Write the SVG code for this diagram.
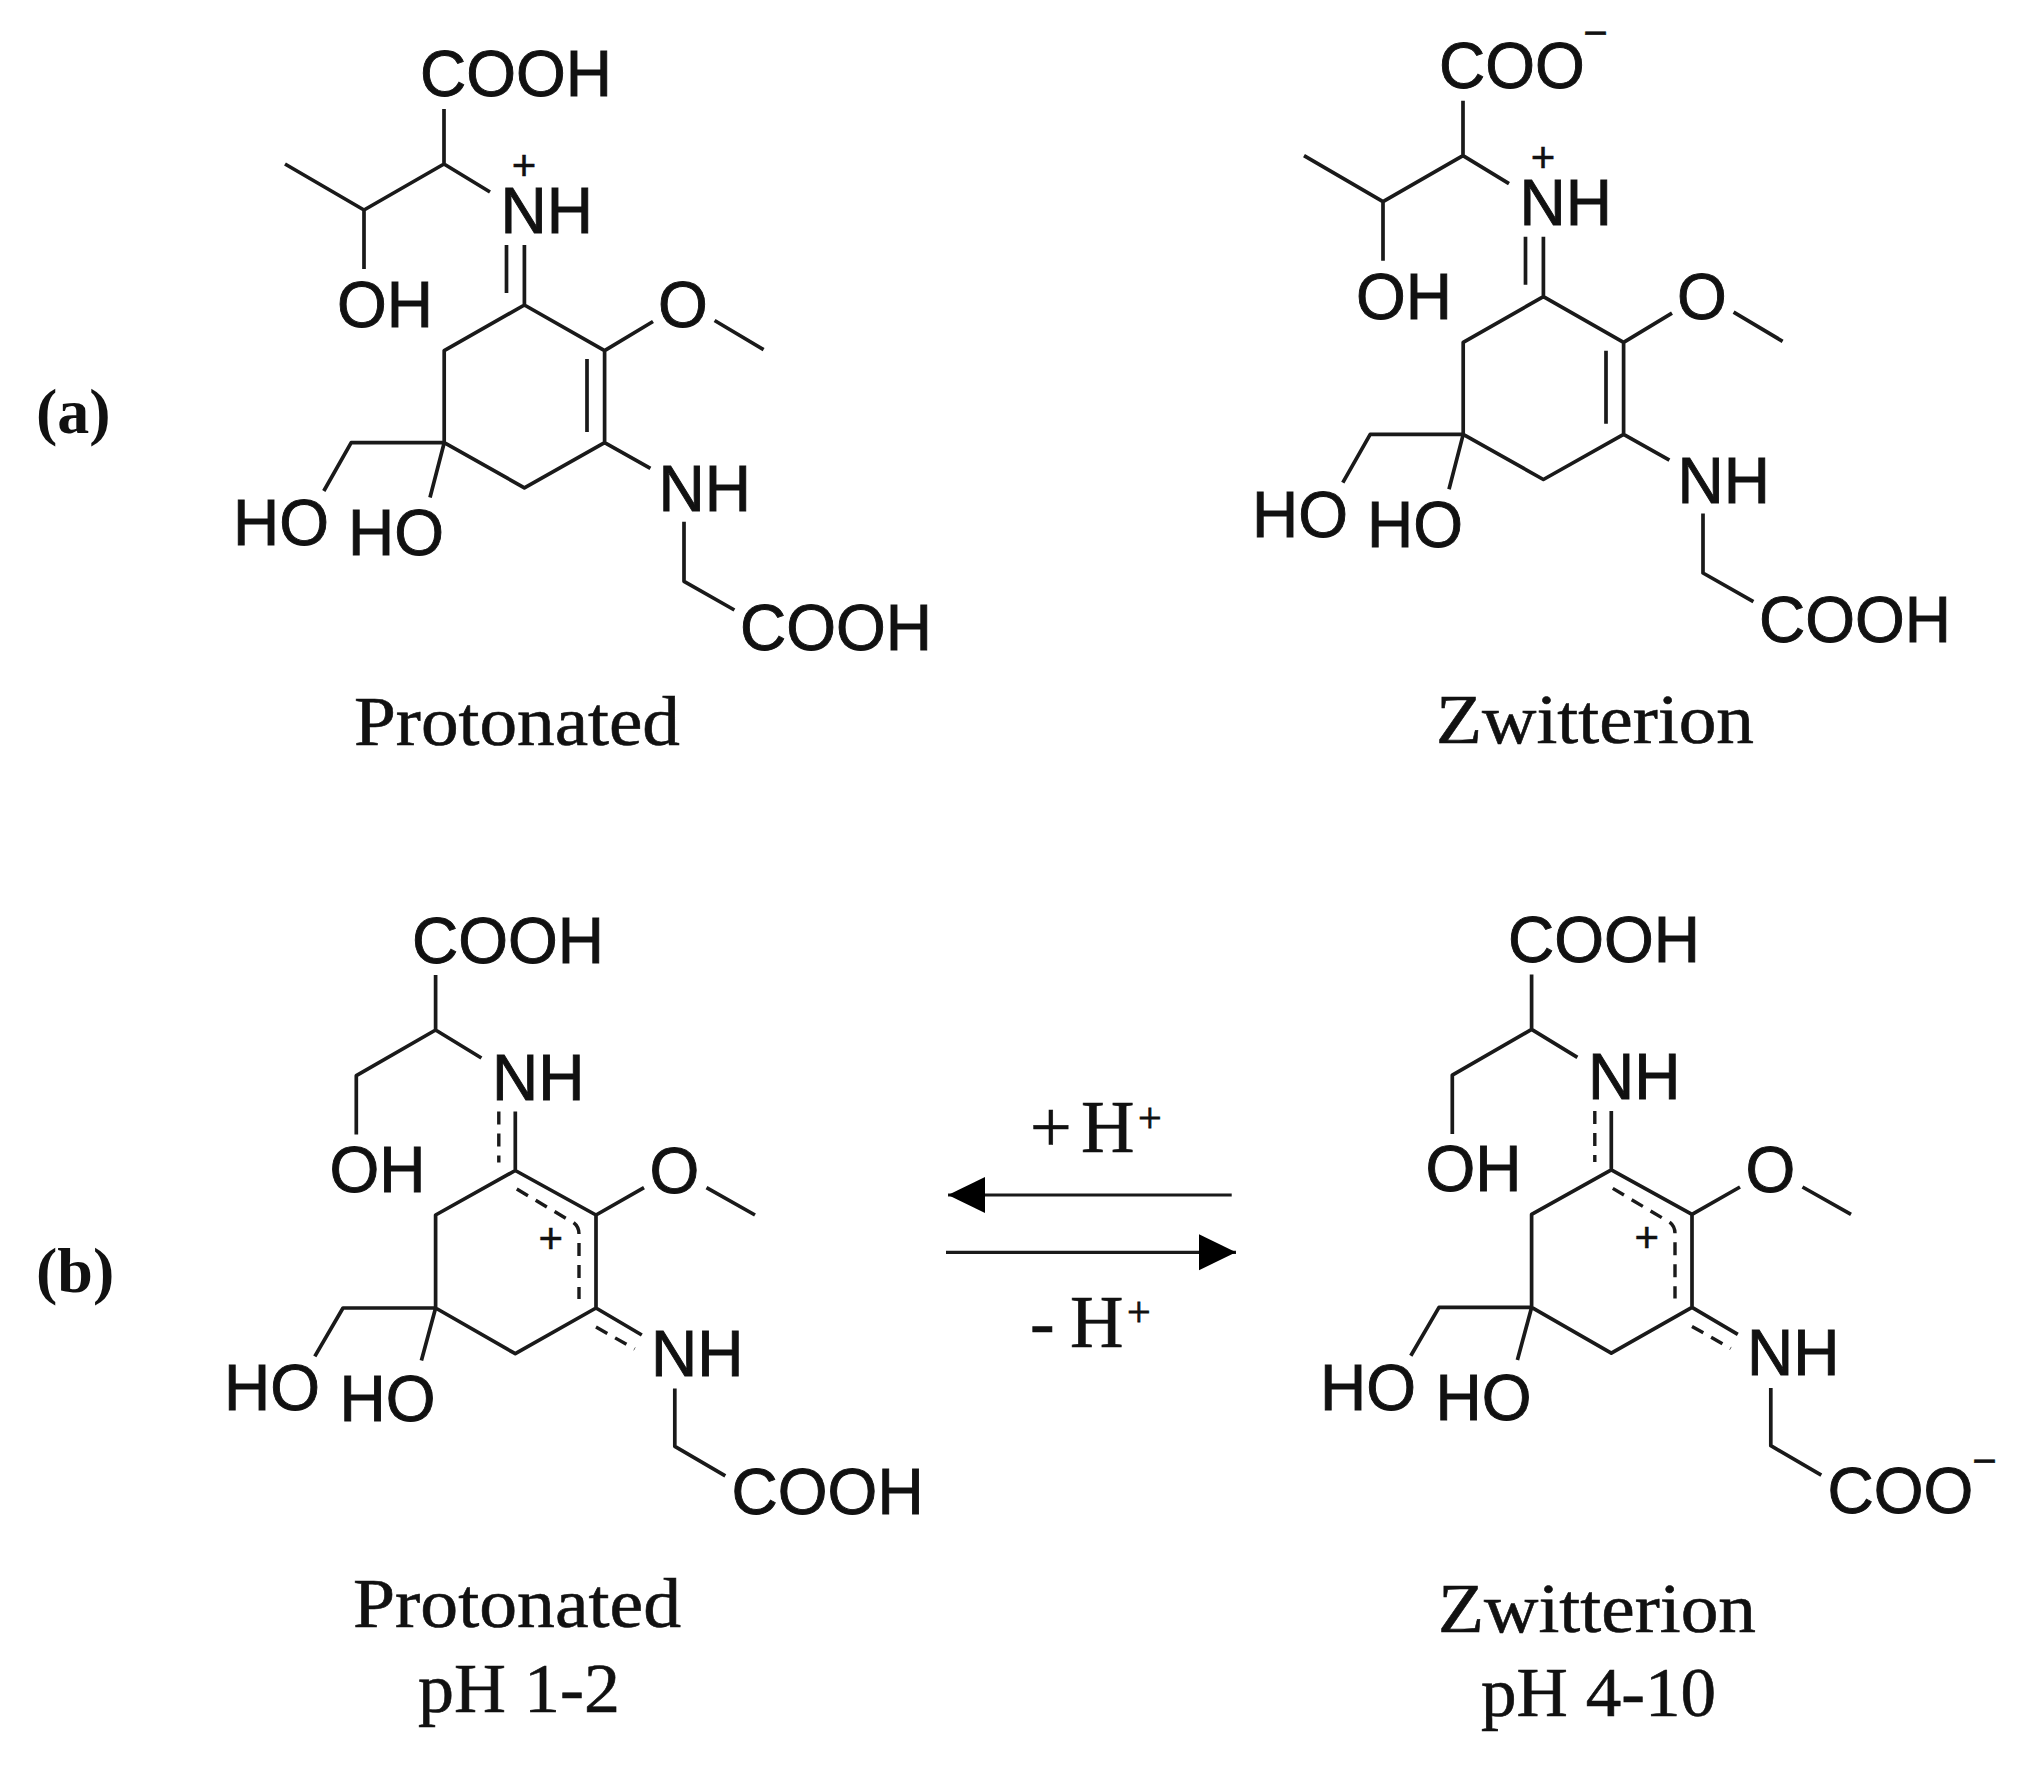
<svg xmlns="http://www.w3.org/2000/svg" width="2037" height="1779" viewBox="0 0 2037 1779">
<style>
text{fill:#111}
.a{font-family:"Liberation Sans",Arial,sans-serif;font-size:64px;stroke:#111;stroke-width:.9}
.c{font-family:"Liberation Sans",Arial,sans-serif;font-size:42px;text-anchor:middle;stroke:#111;stroke-width:.5}
.s{font-family:"Liberation Serif","Times New Roman",serif;font-size:70px;stroke:#111;stroke-width:.6}
.h{font-family:"Liberation Serif","Times New Roman",serif;font-size:74px;stroke:#111;stroke-width:.6}
.u{font-family:"Liberation Serif","Times New Roman",serif;font-size:42px;stroke:#111;stroke-width:.8}
.l{font-family:"Liberation Serif","Times New Roman",serif;font-size:64px;font-weight:bold}
.b{fill:none;stroke:#1a1a1a;stroke-width:3.7;stroke-linejoin:round;stroke-linecap:butt}
.d{fill:none;stroke:#1a1a1a;stroke-width:3.4;stroke-dasharray:13 9}
.ar{fill:none;stroke:#1a1a1a;stroke-width:3.2}
</style>
<defs>
<marker id="head" markerUnits="userSpaceOnUse" markerWidth="38" markerHeight="38" refX="37" refY="18" orient="auto"><path d="M0 0L37 18L0 36Z" fill="#000"/></marker>
</defs>
<rect width="2037" height="1779" fill="#fff"/>
<g id="label-a"><text class="l" x="36" y="433">(a)</text></g>
<g id="label-b"><text class="l" x="36" y="1292">(b)</text></g>
<g id="mol-a-protonated">
<path class="b" d="M444 109V164M285 164L364 210L444 164L490 192M364 210V269M524.4 245V305M506.5 245V293M524.4 305L604.6 350.6V442.7L524.4 487.8L444.2 442.7V350.6ZM587 359V432M604.6 350.6L653 321.5M714.6 320.5L763.6 349.6M604.6 442.7L650.4 468.4M684 521.7V581.3L734.4 610M444.2 442.7H351.2L323.8 491M444.2 442.7L430 497.5"/>
<text class="a" x="420" y="96">COOH</text>
<text class="c" x="524" y="180">+</text>
<text class="a" x="500.500" y="233">NH</text>
<text class="a" x="337" y="327">OH</text>
<text class="a" x="658" y="327">O</text>
<text class="a" x="658.500" y="511">NH</text>
<text class="a" x="233" y="545">HO</text>
<text class="a" x="348" y="555">HO</text>
<text class="a" x="740" y="650">COOH</text>
<text class="s" x="354" y="745" textLength="326" lengthAdjust="spacingAndGlyphs">Protonated</text>
</g>
<g id="mol-a-zwitterion" transform="translate(1019 -8.3)">
<path class="b" d="M444 109V164M285 164L364 210L444 164L490 192M364 210V269M524.4 245V305M506.5 245V293M524.4 305L604.6 350.6V442.7L524.4 487.8L444.2 442.7V350.6ZM587 359V432M604.6 350.6L653 321.5M714.6 320.5L763.6 349.6M604.6 442.7L650.4 468.4M684 521.7V581.3L734.4 610M444.2 442.7H351.2L323.8 491M444.2 442.7L430 497.5"/>
<text class="a" x="420" y="96">COO</text>
<text class="c" x="576.500" y="55.800">−</text>
<text class="c" x="524" y="180">+</text>
<text class="a" x="500.500" y="233">NH</text>
<text class="a" x="337" y="327">OH</text>
<text class="a" x="658" y="327">O</text>
<text class="a" x="658.500" y="511">NH</text>
<text class="a" x="233" y="545">HO</text>
<text class="a" x="348" y="555">HO</text>
<text class="a" x="740" y="650">COOH</text>
<text class="s" x="417" y="751" textLength="318" lengthAdjust="spacingAndGlyphs">Zwitterion</text>
</g>
<g id="mol-b-protonated">
<path class="b" d="M435.600 975V1030L356.300 1075.700V1134.600M435.600 1030L481.400 1058M515.300 1111.600V1170.500M515.300 1170.500L596 1215V1308L515.300 1353.700L435.600 1308V1215ZM596 1215L644 1187.600M706.500 1187.600L755 1215M596 1308L641.800 1335M674.800 1388.500V1446.300L725.300 1475.800M435.600 1308H343L314.800 1356.400M435.600 1308L421.400 1360.600"/>
<path class="d" d="M498.800 1111.600V1162.500M596 1327L634.700 1349M516.800 1189L568.700 1220Q579 1224 579 1234V1299"/>
<text class="a" x="412" y="962.700">COOH</text>
<text class="a" x="492" y="1099.800">NH</text>
<text class="a" x="329.500" y="1192">OH</text>
<text class="a" x="649.500" y="1193">O</text>
<text class="c" x="550.700" y="1252.500">+</text>
<text class="a" x="651" y="1375.600">NH</text>
<text class="a" x="224" y="1410.400">HO</text>
<text class="a" x="339.500" y="1420.600">HO</text>
<text class="a" x="731.600" y="1514">COOH</text>
<text class="s" x="353" y="1626.800" textLength="328" lengthAdjust="spacingAndGlyphs">Protonated</text>
<text class="s" x="418" y="1711.500" textLength="202" lengthAdjust="spacingAndGlyphs">pH 1-2</text>
</g>
<g id="mol-b-zwitterion" transform="translate(1096 -0.6)">
<path class="b" d="M435.600 975V1030L356.300 1075.700V1134.600M435.600 1030L481.400 1058M515.300 1111.600V1170.500M515.300 1170.500L596 1215V1308L515.300 1353.700L435.600 1308V1215ZM596 1215L644 1187.600M706.500 1187.600L755 1215M596 1308L641.800 1335M674.800 1388.500V1446.300L725.300 1475.800M435.600 1308H343L314.800 1356.400M435.600 1308L421.400 1360.600"/>
<path class="d" d="M498.800 1111.600V1162.500M596 1327L634.700 1349M516.800 1189L568.700 1220Q579 1224 579 1234V1299"/>
<text class="a" x="412" y="962.700">COOH</text>
<text class="a" x="492" y="1099.800">NH</text>
<text class="a" x="329.500" y="1192">OH</text>
<text class="a" x="649.500" y="1193">O</text>
<text class="c" x="550.700" y="1252.500">+</text>
<text class="a" x="651" y="1375.600">NH</text>
<text class="a" x="224" y="1410.400">HO</text>
<text class="a" x="339.500" y="1420.600">HO</text>
<text class="a" x="731.600" y="1514">COO</text>
<text class="c" x="888.500" y="1476">−</text>
<text class="s" x="342" y="1632.600" textLength="318" lengthAdjust="spacingAndGlyphs">Zwitterion</text>
<text class="s" x="385" y="1716.600" textLength="235" lengthAdjust="spacingAndGlyphs">pH 4-10</text>
</g>
<g id="connectors">
<line class="ar" x1="1231.700" y1="1195" x2="948" y2="1195" marker-end="url(#head)"/>
<line class="ar" x1="946" y1="1252.300" x2="1236" y2="1252.300" marker-end="url(#head)"/>
</g>
<g id="reaction-labels">
<text class="h" x="1030" y="1152">+</text>
<text class="h" x="1081" y="1152">H</text>
<text class="u" x="1138" y="1132">+</text>
<text class="h" x="1030" y="1346.700">-</text>
<text class="h" x="1070" y="1346.700">H</text>
<text class="u" x="1127" y="1326">+</text>
</g>
</svg>
